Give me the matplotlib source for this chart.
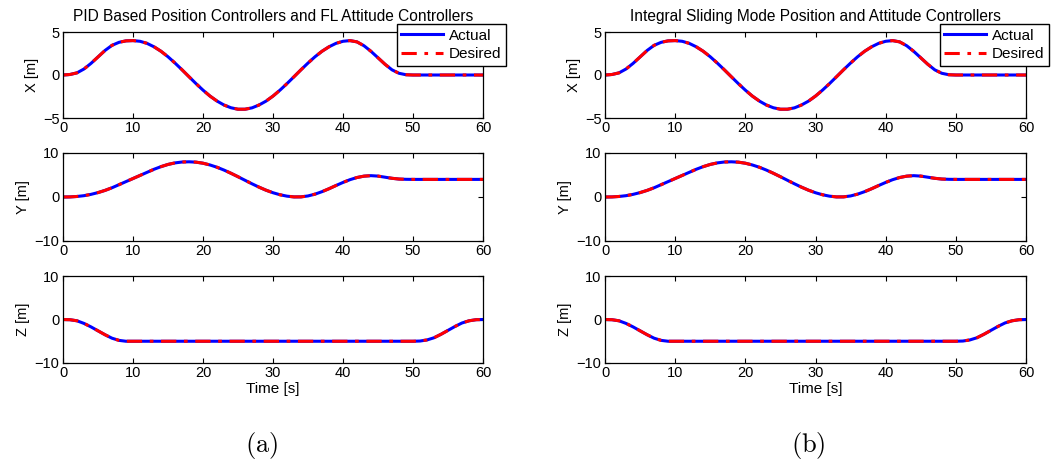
import matplotlib
matplotlib.use('Agg')
import matplotlib.pyplot as plt

# datos (iguales para ambos controladores)
t = list(range(0, 61))

x_des = [0.0, 0.06, 0.25, 0.7, 1.35, 2.1, 2.85, 3.45, 3.8, 3.97, 4.0,
         3.92, 3.68, 3.28, 2.76, 2.12, 1.39, 0.61, -0.2, -1.0, -1.76,
         -2.45, -3.03, -3.49, -3.81, -3.98, -3.98, -3.82, -3.49, -3.04, -2.45,
         -1.76, -1.0, -0.2, 0.61, 1.39, 2.12, 2.76, 3.28, 3.68, 3.92,
         4.0, 3.85, 3.4, 2.75, 2.0, 1.25, 0.6, 0.2, 0.03, 0.0,
         0.0, 0.0, 0.0, 0.0, 0.0, 0.0, 0.0, 0.0, 0.0, 0.0]

y_des = [0.0, 0.02, 0.12, 0.3, 0.6, 1.0, 1.5, 2.1, 2.8, 3.5, 4.2,
         4.9, 5.6, 6.3, 6.9, 7.4, 7.75, 7.95, 8.0, 7.92, 7.68,
         7.28, 6.76, 6.12, 5.39, 4.61, 3.8, 3.0, 2.24, 1.55, 0.97,
         0.51, 0.19, 0.02, 0.03, 0.24, 0.65, 1.21, 1.88, 2.61, 3.31,
         3.94, 4.43, 4.74, 4.85, 4.75, 4.5, 4.25, 4.08, 4.02, 4.0,
         4.0, 4.0, 4.0, 4.0, 4.0, 4.0, 4.0, 4.0, 4.0, 4.0]

z_des = [0.0, -0.05, -0.3, -0.9, -1.7, -2.6, -3.5, -4.3, -4.8, -5.0, -5.0,
         -5.0, -5.0, -5.0, -5.0, -5.0, -5.0, -5.0, -5.0, -5.0, -5.0,
         -5.0, -5.0, -5.0, -5.0, -5.0, -5.0, -5.0, -5.0, -5.0, -5.0,
         -5.0, -5.0, -5.0, -5.0, -5.0, -5.0, -5.0, -5.0, -5.0, -5.0,
         -5.0, -5.0, -5.0, -5.0, -5.0, -5.0, -5.0, -5.0, -5.0, -5.0,
         -4.95, -4.7, -4.2, -3.4, -2.5, -1.6, -0.8, -0.3, -0.05, 0.0]

# la trayectoria real se superpone a la deseada
x_act = list(x_des)
y_act = list(y_des)
z_act = list(z_des)

titulos = ['PID Based Position Controllers and FL Attitude Controllers',
           'Integral Sliding Mode Position and Attitude Controllers']
subtitulos = ['(a)', '(b)']
etiquetas_y = ['X [m]', 'Y [m]', 'Z [m]']
limites_y = [(-5, 5), (-10, 10), (-10, 10)]
ticks_y = [[-5, 0, 5], [-10, 0, 10], [-10, 0, 10]]

plt.rcParams['font.family'] = ['Liberation Sans', 'DejaVu Sans']
plt.rcParams['mathtext.fontset'] = 'cm'

W, H = 1051, 465
fig = plt.figure(figsize=(W / 100, H / 100), dpi=100)

# posiciones en pixeles: (izquierda, derecha) y (arriba, abajo)
columnas = [(63, 483), (605, 1026)]
filas = [(32, 118), (153, 241), (276, 363)]

datos = [(x_act, x_des), (y_act, y_des), (z_act, z_des)]

for c, (xl, xr) in enumerate(columnas):
    for f, (yt, yb) in enumerate(filas):
        ax = fig.add_axes([xl / W, (H - yb) / H, (xr - xl) / W, (yb - yt) / H])
        real, deseada = datos[f]
        ax.plot(t, real, color='#0000ff', lw=2.2, label='Actual')
        ax.plot(t, deseada, color='#ff0000', lw=2.2, ls='-.', dashes=(5, 2.5, 1.2, 2.5),
                label='Desired')
        ax.set_xlim(0, 60)
        ax.set_ylim(*limites_y[f])
        ax.set_yticks(ticks_y[f])
        ax.set_xticks([0, 10, 20, 30, 40, 50, 60])
        ax.tick_params(direction='in', top=True, right=True, labelsize=10.5,
                       length=3.5, width=0.8, pad=2.5)
        for s in ax.spines.values():
            s.set_linewidth(0.9)
        ax.set_ylabel(etiquetas_y[f], fontsize=10.5, labelpad=3)
        if f == 0:
            ax.set_title(titulos[c], fontsize=11.2, pad=8)
            ax.legend(loc='upper left', bbox_to_anchor=(0.795, 1.093),
                      borderaxespad=0, fancybox=False, framealpha=1,
                      edgecolor='black', fontsize=11, handlelength=2.7,
                      borderpad=0.3, labelspacing=0.3, handletextpad=0.4)
        if f == 2:
            ax.set_xlabel('Time [s]', fontsize=11, labelpad=1)

for i, xc in enumerate([262, 808]):
    fig.text(xc / W, 1 - 445 / H, r'$\mathrm{' + subtitulos[i] + '}$',
             ha='center', va='center', fontsize=19)

fig.savefig('out.png', dpi=100)
